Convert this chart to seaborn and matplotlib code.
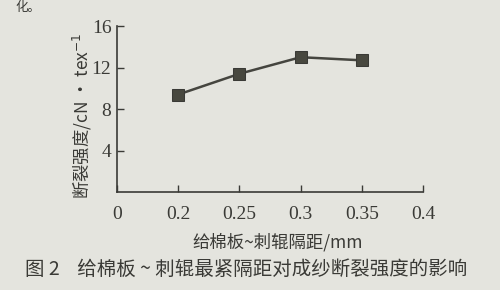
import matplotlib
matplotlib.use("Agg")
import matplotlib.pyplot as plt
import seaborn as sns
import pandas as pd

# data
tick_labels = ["0", "0.2", "0.25", "0.3", "0.35", "0.4"]
gaps = ["0.2", "0.25", "0.3", "0.35"]
strength = [9.4, 11.4, 13.0, 12.7]
y_ticks = [4, 8, 12, 16]

sns.set_theme(style="ticks")
plt.rcParams['font.family'] = ['Liberation Serif', 'Noto Sans CJK SC']

bg = "#e4e4de"
ink = "#3a3a36"

fig = plt.figure(figsize=(5, 2.9), dpi=100, facecolor=bg)
ax = fig.add_axes([0.234, 0.338, 0.612, 0.572], facecolor=bg)

df = pd.DataFrame({"pos": [tick_labels.index(g) for g in gaps], "val": strength})
sns.lineplot(data=df, x="pos", y="val", ax=ax, color="#45453f", linewidth=1.8,
             marker="s", markersize=9, markerfacecolor="#48483f",
             markeredgecolor="#3a3a36")

ax.set_xlim(0, len(tick_labels) - 1)
ax.set_ylim(0, 16)
ax.set_xticks(range(len(tick_labels)))
ax.set_xticklabels(tick_labels)
ax.set_yticks(y_ticks)
ax.set_yticklabels([str(v) for v in y_ticks])
ax.tick_params(direction="in", length=5, width=1, colors=ink, labelsize=14, pad=10)
ax.tick_params(axis="y", pad=4)
for s in ["top", "right"]:
    ax.spines[s].set_visible(False)
for s in ["left", "bottom"]:
    ax.spines[s].set_color(ink)
    ax.spines[s].set_linewidth(1.2)
ax.set_xlabel("")
ax.set_ylabel("")

cjk = ['Noto Sans CJK SC', 'DejaVu Sans']
fig.text(0.164, 0.60, "断裂强度/cN · tex$^{-1}$", rotation=90, ha="center", va="center",
         fontsize=12.5, color=ink, family=cjk)
fig.text(0.555, 0.165, "给棉板~刺辊隔距/mm", ha="center", va="center",
         fontsize=12.5, color=ink, family=cjk)
fig.text(0.05, 0.07, "图 2    给棉板 ~ 刺辊最紧隔距对成纱断裂强度的影响", ha="left", va="center",
         fontsize=14, color=ink, family=cjk)
fig.text(0.03, 0.998, "化。", ha="left", va="top", fontsize=9, color=ink, family=cjk)

fig.savefig("out.png", dpi=100, facecolor=bg)
